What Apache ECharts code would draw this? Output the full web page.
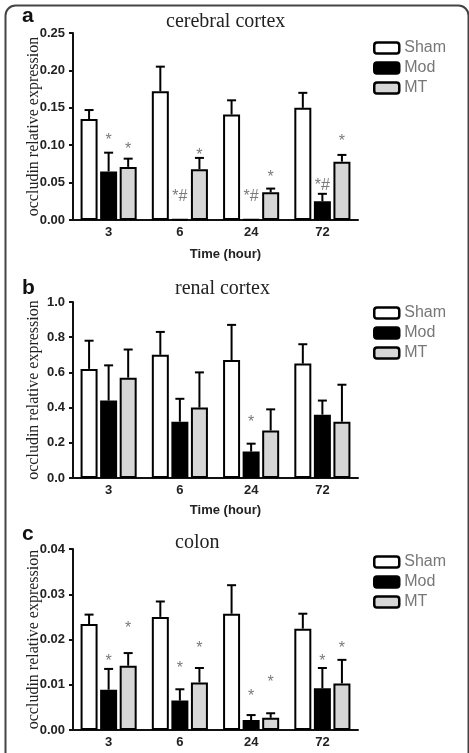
<!DOCTYPE html>
<html>
<head>
<meta charset="utf-8">
<script src="https://cdn.jsdelivr.net/npm/echarts@6/dist/echarts.min.js"></script>
<style>
  html, body { margin: 0; padding: 0; background: #fff; }
  #chart { width: 469px; height: 753px; }
</style>
</head>
<body>
<div id="chart"></div>
<script>
// time points (hours)
const hours = ['3', '6', '24', '72'];
const groups = ['Sham', 'Mod', 'MT'];

// a - cerebral cortex
const cortexSham = [0.135, 0.172, 0.141, 0.150];
const cortexShamErr = [0.012, 0.033, 0.019, 0.020];
const cortexMod = [0.065, 0.001, 0.001, 0.025];
const cortexModErr = [0.025, 0, 0, 0.010];
const cortexMT = [0.071, 0.068, 0.037, 0.078];
const cortexMTErr = [0.011, 0.015, 0.005, 0.009];
const cortexModSig = ['*', '*#', '*#', '*#'];
const cortexModSigAt = [0.111, 0.036, 0.036, 0.051];
const cortexMTSig = ['*', '*', '*', '*'];
const cortexMTSigAt = [0.100, 0.091, 0.062, 0.110];

// b - renal cortex
const renalSham = [0.62, 0.70, 0.67, 0.65];
const renalShamErr = [0.16, 0.13, 0.20, 0.11];
const renalMod = [0.44, 0.32, 0.15, 0.36];
const renalModErr = [0.20, 0.13, 0.045, 0.08];
const renalMT = [0.57, 0.40, 0.27, 0.32];
const renalMTErr = [0.16, 0.20, 0.12, 0.21];
const renalModSig = ['', '', '*', ''];
const renalModSigAt = [0, 0, 0.337, 0];

// c - colon
const colonSham = [0.0234, 0.0250, 0.0257, 0.0224];
const colonShamErr = [0.0021, 0.0034, 0.0063, 0.0033];
const colonMod = [0.0089, 0.0065, 0.0022, 0.0092];
const colonModErr = [0.0046, 0.0025, 0.0011, 0.0045];
const colonMT = [0.0142, 0.0105, 0.0027, 0.0103];
const colonMTErr = [0.0028, 0.0032, 0.0010, 0.0052];
const colonModSig = ['*', '*', '*', '*'];
const colonModSigAt = [0.0159, 0.0144, 0.0083, 0.0159];
const colonMTSig = ['*', '*', '*', '*'];
const colonMTSigAt = [0.0232, 0.0188, 0.0113, 0.0188];

// axis ticks
const cortexTicks = { min: 0, max: 0.25, interval: 0.05, digits: 2 };
const renalTicks = { min: 0, max: 1.0, interval: 0.2, digits: 1 };
const colonTicks = { min: 0, max: 0.04, interval: 0.01, digits: 2 };

const panels = [
  { letter: 'a', title: 'cerebral cortex', ticks: cortexTicks, xName: 'Time (hour)',
    means: [cortexSham, cortexMod, cortexMT], errs: [cortexShamErr, cortexModErr, cortexMTErr],
    sig: [null, [cortexModSig, cortexModSigAt], [cortexMTSig, cortexMTSigAt]] },
  { letter: 'b', title: 'renal cortex', ticks: renalTicks, xName: 'Time (hour)',
    means: [renalSham, renalMod, renalMT], errs: [renalShamErr, renalModErr, renalMTErr],
    sig: [null, [renalModSig, renalModSigAt], null] },
  // the axis name of c falls below the picture edge
  { letter: 'c', title: 'colon', ticks: colonTicks, xName: '',
    means: [colonSham, colonMod, colonMT], errs: [colonShamErr, colonModErr, colonMTErr],
    sig: [null, [colonModSig, colonModSigAt], [colonMTSig, colonMTSigAt]] }
];

// layout
const gridTop = [33, 302, 549];
const gridHeight = [187, 176, 181];
const legendTop = [40, 305, 554];
const titlePos = [[166, 12], [175, 279], [175, 533]];
const letterPos = [[22, 20], [22, 292], [22, 538]];
const nameGaps = [28, 26, 28];
const fills = ['#ffffff', '#000000', '#d6d6d6'];
const barW = 17;
const gapW = barW * 0.15;
const sans = 'Liberation Sans, Arial, sans-serif';
const serif = 'Liberation Serif, Times New Roman, serif';

const chart = echarts.init(document.getElementById('chart'), null, { renderer: 'canvas' });

const grid = [], xAxis = [], yAxis = [], series = [], legend = [], title = [], graphic = [];

panels.forEach((p, pi) => {
  grid.push({ left: 73, top: gridTop[pi], width: 285, height: gridHeight[pi], outerBoundsMode: 'none' });
  xAxis.push({
    type: 'category', gridIndex: pi, data: hours,
    name: p.xName, nameLocation: 'middle', nameGap: nameGaps[pi], nameMoveOverlap: false,
    nameTextStyle: { fontFamily: sans, fontWeight: 'bold', fontSize: 13, color: '#222', padding: [0, 0, 0, 20] },
    axisLine: { lineStyle: { color: '#111', width: 2 } },
    axisTick: { alignWithLabel: true, length: 4, lineStyle: { color: '#111', width: 2 } },
    axisLabel: { margin: 6, fontFamily: sans, fontWeight: 'bold', fontSize: 13, color: '#222' },
    splitLine: { show: false }
  });
  yAxis.push({
    type: 'value', gridIndex: pi,
    min: p.ticks.min, max: p.ticks.max, interval: p.ticks.interval,
    name: 'occludin relative expression', nameLocation: 'middle', nameGap: 31, nameMoveOverlap: false,
    nameTextStyle: { fontFamily: serif, fontSize: 16, color: '#222' },
    axisLine: { show: true, lineStyle: { color: '#111', width: 2 } },
    axisTick: { show: true, length: 4, lineStyle: { color: '#111', width: 2 } },
    axisLabel: { margin: 8, fontFamily: sans, fontWeight: 'bold', fontSize: 13, color: '#222',
      formatter: v => v.toFixed(p.ticks.digits) },
    splitLine: { show: false }
  });

  groups.forEach((g, gi) => {
    const offset = (gi - 1) * (barW + gapW);
    series.push({
      name: g, type: 'bar', xAxisIndex: pi, yAxisIndex: pi,
      barWidth: barW, barGap: '15%',
      itemStyle: { color: fills[gi], borderColor: '#000', borderWidth: 2 },
      data: p.means[gi], z: 3
    });
    // error bars (upper only)
    series.push({
      type: 'custom', xAxisIndex: pi, yAxisIndex: pi, z: 2, silent: true,
      data: p.means[gi].map((m, i) => [i, m, p.errs[gi][i]]),
      renderItem: (params, api) => {
        const e = api.value(2);
        if (!e) return;
        const base = api.coord([api.value(0), api.value(1)]);
        const top = api.coord([api.value(0), api.value(1) + e]);
        const x = base[0] + offset;
        const st = { stroke: '#000', lineWidth: 2 };
        return { type: 'group', children: [
          { type: 'line', shape: { x1: x, y1: base[1], x2: x, y2: top[1] }, style: st },
          { type: 'line', shape: { x1: x - 4.5, y1: top[1], x2: x + 4.5, y2: top[1] }, style: st }
        ] };
      }
    });
    const sig = p.sig[gi];
    if (sig) {
      series.push({
        type: 'custom', xAxisIndex: pi, yAxisIndex: pi, z: 4, silent: true,
        data: sig[1].map((v, i) => [i, v]),
        renderItem: (params, api) => {
          const txt = sig[0][params.dataIndex];
          if (!txt) return;
          const pt = api.coord([api.value(0), api.value(1)]);
          return { type: 'text', style: {
            text: txt, x: pt[0] + offset, y: pt[1] + 4,
            align: 'center', verticalAlign: 'middle',
            fill: '#7a7a7a', font: '16px ' + sans
          } };
        }
      });
    }
  });

  legend.push({
    orient: 'vertical', left: 373, top: legendTop[pi], padding: 0,
    itemWidth: 25, itemHeight: 11, itemGap: 4, icon: 'roundRect',
    selectedMode: false,
    textStyle: { color: '#777', fontSize: 16, fontFamily: sans },
    data: groups.map((g, gi) => ({ name: g, itemStyle: { color: fills[gi], borderColor: '#000', borderWidth: 2.5 } }))
  });

  title.push({
    text: p.title, left: titlePos[pi][0], top: titlePos[pi][1], padding: 0,
    textStyle: { fontFamily: serif, fontSize: 20, fontWeight: 'normal', color: '#222' }
  });

  graphic.push({
    type: 'text', left: letterPos[pi][0], top: letterPos[pi][1] - 14,
    style: { text: p.letter, font: 'bold 21px ' + sans, fill: '#111' }
  });
});

// rounded frame
graphic.push({
  type: 'rect', left: 3, top: 3, silent: true,
  shape: { width: 463, height: 800, r: 10 },
  style: { fill: 'none', stroke: '#444', lineWidth: 2 }
});

chart.setOption({
  backgroundColor: '#fff',
  animation: false,
  title, grid, xAxis, yAxis, legend, series, graphic
});
</script>
</body>
</html>
